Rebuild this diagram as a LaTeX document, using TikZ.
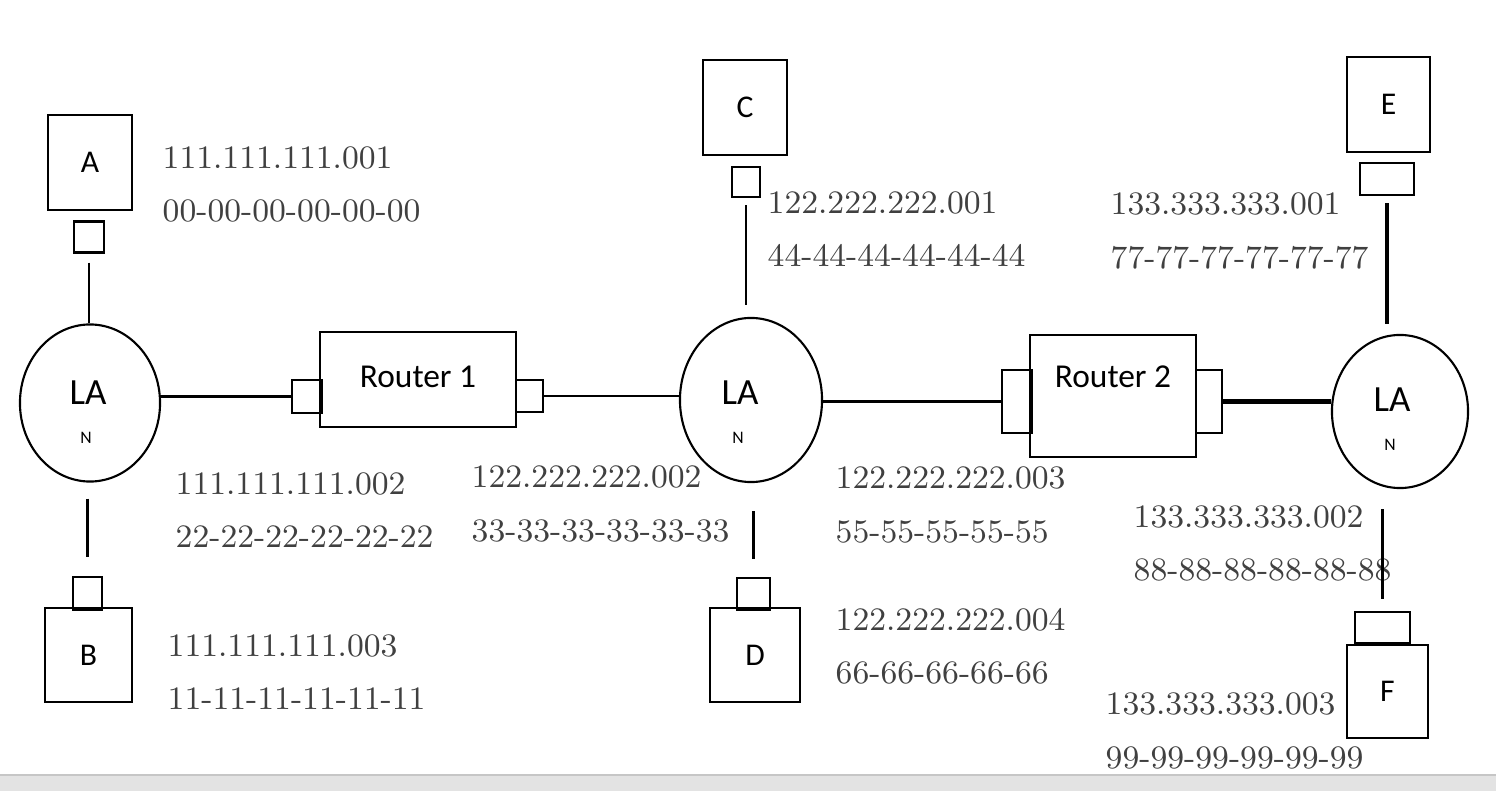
\documentclass[tikz,border=0pt]{standalone}
\usepackage{fontspec}
\setsansfont{Carlito}
\usetikzlibrary{shapes.geometric}

\begin{document}
\begin{tikzpicture}[x=0.01cm, y=-0.01cm,
    box/.style={draw, line width=0.7pt, inner sep=0pt, font=\sffamily\fontsize{9}{11}\selectfont},
    port/.style={draw, line width=0.7pt, inner sep=0pt},
    lan/.style={draw, ellipse, line width=0.6pt, inner sep=0pt},
    addr/.style={anchor=west, align=left, inner sep=0pt, text=black!75,
        font=\fontsize{9.3}{15.1}\selectfont},
    wire/.style={line width=0.6pt}]
    \useasboundingbox (0,0) rectangle (1496,791);
    % window bar at the bottom
    \fill[gray!22] (0,775) rectangle (1496,791);
    \draw[gray!45, line width=0.4pt] (0,775) -- (1496,775);

    % hosts and their ports
    \node[box, minimum width=0.84cm, minimum height=0.95cm] (A) at (90,162.5) {A};
    \node[port, minimum width=0.30cm, minimum height=0.31cm] (pA) at (89,237) {};
    \node[box, minimum width=0.87cm, minimum height=0.94cm] (B) at (88.5,655) {B};
    \node[port, minimum width=0.29cm, minimum height=0.33cm] (pB) at (87.5,593.5) {};
    \node[box, minimum width=0.84cm, minimum height=0.95cm] (C) at (745,107.5) {C};
    \node[port, minimum width=0.28cm, minimum height=0.30cm] (pC) at (746,182) {};
    \node[box, minimum width=0.90cm, minimum height=0.94cm] (D) at (755,655) {D};
    \node[port, minimum width=0.33cm, minimum height=0.32cm] (pD) at (753.5,594) {};
    \node[box, minimum width=0.83cm, minimum height=0.95cm] (E) at (1388.5,104.5) {E};
    \node[port, minimum width=0.54cm, minimum height=0.32cm] (pE) at (1387,179) {};
    \node[box, minimum width=0.81cm, minimum height=0.93cm] (F) at (1387.5,691.5) {F};
    \node[port, minimum width=0.55cm, minimum height=0.31cm] (pF) at (1382.5,627.5) {};

    % LANs
    \node[lan, minimum width=1.40cm, minimum height=1.57cm] (lan1) at (90,403) {};
    \node[lan, minimum width=1.42cm, minimum height=1.64cm] (lan2) at (751,400) {};
    \node[lan, minimum width=1.36cm, minimum height=1.53cm] (lan3) at (1400,411.5) {};
    \foreach \n/\x/\y in {1/88/393, 2/740/393, 3/1392/400} {
        \node[font=\sffamily\fontsize{10.5}{13}\selectfont] (la\n) at (\x,\y) {LA};
        \node[font=\sffamily\fontsize{5}{6}\selectfont] (n\n) at (\x-2,\y+45) {N};
    }

    % routers
    \node[box, minimum width=1.96cm, minimum height=0.95cm] (r1) at (418,379.5) {};
    \node[font=\sffamily\fontsize{9.5}{11}\selectfont] (r1t) at (418,377) {Router 1};
    \node[port, minimum width=0.30cm, minimum height=0.33cm] (pR1l) at (307,396.5) {};
    \node[port, minimum width=0.27cm, minimum height=0.32cm] (pR1r) at (529.5,396) {};
    \node[box, minimum width=1.66cm, minimum height=1.22cm] (r2) at (1113,396) {};
    \node[font=\sffamily\fontsize{9.5}{11}\selectfont] (r2t) at (1113,377) {Router 2};
    \node[port, minimum width=0.30cm, minimum height=0.63cm] (pR2l) at (1017,401.5) {};
    \node[port, minimum width=0.26cm, minimum height=0.63cm] (pR2r) at (1209,401.5) {};

    % addresses
    \node[addr] (aA) at (162,184.5) {111.111.111.001\\00-00-00-00-00-00};
    \node[addr] (aR1l) at (175,510) {111.111.111.002\\22-22-22-22-22-22};
    \node[addr] (aB) at (167,672.5) {111.111.111.003\\11-11-11-11-11-11};
    \node[addr] (aC) at (767,229) {122.222.222.001\\44-44-44-44-44-44};
    \node[addr] (aR1r) at (471,504) {122.222.222.002\\33-33-33-33-33-33};
    \node[addr] (aR2l) at (835,505) {122.222.222.003\\55-55-55-55-55};
    \node[addr] (aD) at (835,646) {122.222.222.004\\66-66-66-66-66};
    \node[addr] (aE) at (1110,231) {133.333.333.001\\77-77-77-77-77-77};
    \node[addr] (aR2r) at (1133,543.5) {133.333.333.002\\88-88-88-88-88-88};
    \node[addr] (aF) at (1105,731) {133.333.333.003\\99-99-99-99-99-99};

    % cables
    \draw[wire, shorten <=0.09cm] (pA.south) -- (pA.south |- lan1.north);
    \draw[wire, shorten <=0.16cm, shorten >=0.19cm] (pB.north |- lan1.south) -- (pB.north);
    \draw[wire, shorten <=0.07cm, shorten >=0.12cm] (pC.south) -- (pC.south |- lan2.north);
    \draw[wire, shorten <=0.28cm, shorten >=0.18cm] (pD.north |- lan2.south) -- (pD.north);
    \draw[line width=1pt, shorten <=0.07cm, shorten >=0.10cm] (pE.south) -- (pE.south |- lan3.north);
    \draw[wire, shorten <=0.20cm, shorten >=0.12cm] (pF.north |- lan3.south) -- (pF.north);
    \draw[wire] (pR1l.west -| lan1.east) -- (pR1l.west);
    \draw[wire] (pR1r.east) -- (pR1r.east -| lan2.west);
    \draw[line width=0.9pt] (pR2l.west -| lan2.east) -- (pR2l.west);
    \draw[line width=1.2pt] (pR2r.east) -- (pR2r.east -| lan3.west);
\end{tikzpicture}
\end{document}
